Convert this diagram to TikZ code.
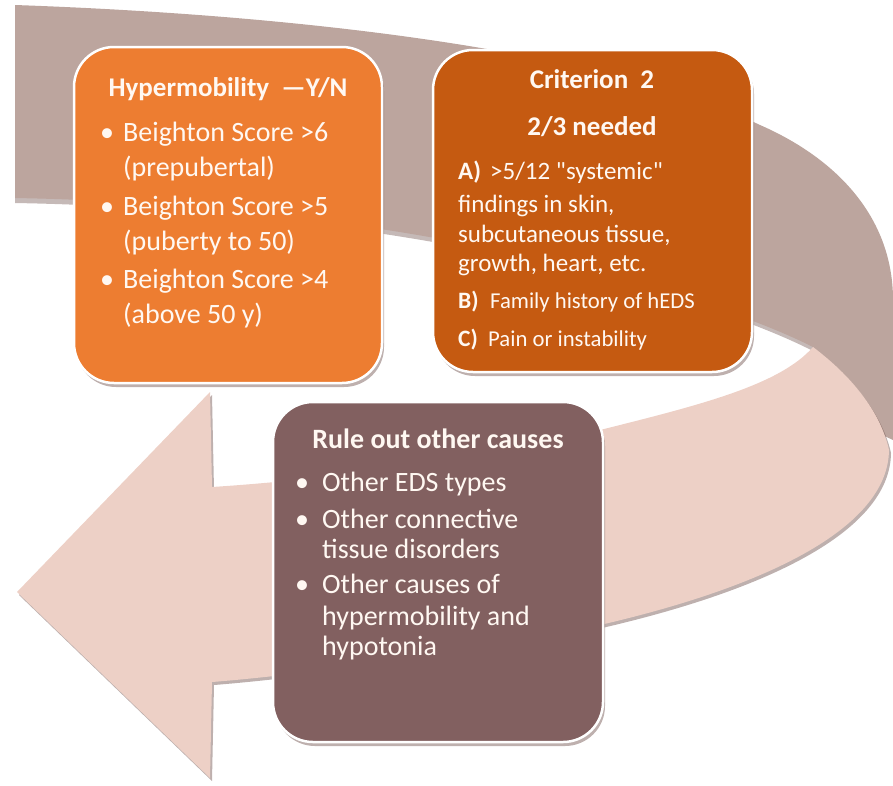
\documentclass[tikz,border=0pt]{standalone}
\usepackage{fontspec}
\setmainfont{Carlito}[Ligatures=TeXOff]
\definecolor{bandback}{RGB}{188,165,158}
\definecolor{bandfront}{RGB}{237,208,198}
\definecolor{hypc}{RGB}{237,125,49}
\definecolor{critc}{RGB}{197,90,17}
\definecolor{rulec}{RGB}{130,96,96}
\definecolor{txtc}{RGB}{255,248,242}
\definecolor{shadc}{RGB}{110,80,75}
\tikzset{
  boxshape/.style={draw=white, line width=2.5pt, rounded corners=40pt, inner sep=0pt,
    preaction={fill=shadc, opacity=0.45, transform canvas={xshift=2pt,yshift=-4pt}}},
  tx/.style={text=txtc, inner sep=0pt, anchor=base west, font=\fontsize{28}{32}\selectfont},
  txa/.style={tx, font=\fontsize{25}{28}\selectfont},
  txb/.style={tx, font=\fontsize{22.7}{28}\selectfont},
  ttl/.style={text=txtc, inner sep=0pt, anchor=base, font=\fontsize{27}{32}\selectfont\bfseries},
  bul/.style={text=txtc, inner sep=0pt, anchor=base, font=\fontsize{28}{32}\selectfont},
}
\begin{document}
\begin{tikzpicture}[x=1pt,y=-1pt]
\useasboundingbox (0,0) rectangle (893,785);
% back (dark) band
\fill[shadc, opacity=0.4] (15,9) -- (15,203) .. controls (400,210) and (700,293) .. (813,351) -- (813,345) .. controls (700,288) and (400,203) .. (15,197) -- cycle;
\fill[bandback] (15,5) .. controls (300,15) and (600,50) .. (760,125)
  .. controls (840,160) and (893,220) .. (893,300) -- (893,440) -- (850,420) -- (813,347)
  .. controls (700,290) and (400,205) .. (15,198) -- cycle;
% front (light) band with arrow head
\fill[shadc, opacity=0.45, transform canvas={xshift=2pt,yshift=-3pt}] (813,347) .. controls (850,375) and (880,410) .. (889,450)
  .. controls (888,530) and (760,588) .. (600,625)
  .. controls (450,655) and (300,675) .. (212,682) -- (210,778) -- (17,592) -- (210,392) -- (212,487)
  .. controls (350,478) and (500,455) .. (600,430)
  .. controls (700,405) and (780,385) .. (813,347) -- cycle;
\fill[bandfront] (813,347) .. controls (850,375) and (880,410) .. (889,450)
  .. controls (888,530) and (760,588) .. (600,625)
  .. controls (450,655) and (300,675) .. (212,682) -- (210,778) -- (17,592) -- (210,392) -- (212,487)
  .. controls (350,478) and (500,455) .. (600,430)
  .. controls (700,405) and (780,385) .. (813,347) -- cycle;
% boxes
\node[boxshape, fill=hypc, minimum width=308pt, minimum height=336pt] (hyp) at (228,215) {};
\node[boxshape, fill=critc, minimum width=319pt, minimum height=322pt] (crit) at (592.5,211) {};
\node[boxshape, fill=rulec, minimum width=330pt, minimum height=340pt] (rule) at (438,572) {};
% hypermobility text
\node[ttl] (h0) at (228,96) {Hypermobility\ \ —Y/N};
\node[bul] (hb1) at (107,141) {•};
\node[tx] (h1) at (123,141) {Beighton Score >6};
\node[tx] (h2) at (123,176) {(prepubertal)};
\node[bul] (hb2) at (107,215) {•};
\node[tx] (h3) at (123,215) {Beighton Score >5};
\node[tx] (h4) at (123,250) {(puberty to 50)};
\node[bul] (hb3) at (107,288) {•};
\node[tx] (h5) at (123,288) {Beighton Score >4};
\node[tx] (h6) at (123,323) {(above 50 y)};
% criterion text
\node[ttl] (c0) at (592,88) {Criterion\ \ 2};
\node[ttl] (c00) at (592,135) {2/3 needed};
\node[txa, font=\fontsize{25}{28}\selectfont\bfseries] (ca) at (458,179) {A)};
\node[txa] (c1) at (490,179) {>5/12 "systemic"};
\node[txa] (c2) at (458,212) {findings in skin,};
\node[txa] (c3) at (458,242) {subcutaneous tissue,};
\node[txa] (c4) at (458,271) {growth, heart, etc.};
\node[txb, font=\fontsize{23.5}{28}\selectfont\bfseries] (cb) at (458,308) {B)};
\node[txb] (c5) at (490,308) {Family history of hEDS};
\node[txb, font=\fontsize{23.5}{28}\selectfont\bfseries] (cc) at (458,346) {C)};
\node[txb] (c6) at (488,346) {Pain or instability};
% rule-out text
\node[ttl, font=\fontsize{28}{32}\selectfont\bfseries] (r0) at (438,448) {Rule out other\ causes};
\node[bul] (rb1) at (302,491) {•};
\node[tx] (r1) at (322,491) {Other EDS types};
\node[bul] (rb2) at (302,528) {•};
\node[tx] (r2) at (322,528) {Other connective};
\node[tx] (r3) at (322,558) {tissue disorders};
\node[bul] (rb3) at (302,593) {•};
\node[tx] (r4) at (322,593) {Other causes of};
\node[tx] (r5) at (322,625) {hypermobility and};
\node[tx] (r6) at (322,655) {hypotonia};
\end{tikzpicture}
\end{document}
